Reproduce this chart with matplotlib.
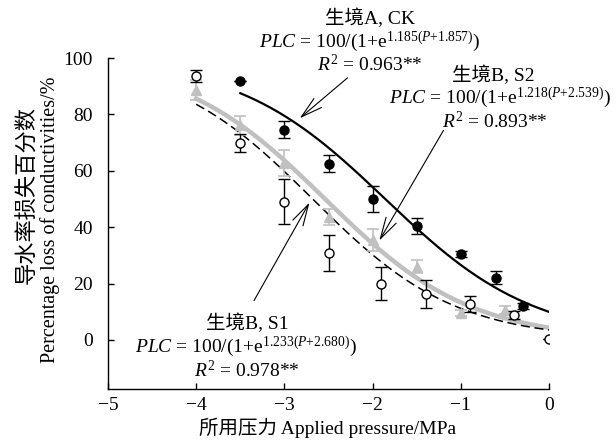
import numpy as np
import matplotlib
matplotlib.use("Agg")
import matplotlib.pyplot as plt

plt.rcParams['font.family'] = ['Liberation Serif', 'Noto Sans CJK SC']
plt.rcParams['mathtext.fontset'] = 'custom'
plt.rcParams['mathtext.rm'] = 'Liberation Serif'
plt.rcParams['mathtext.it'] = 'Liberation Serif:italic'
plt.rcParams['axes.unicode_minus'] = True

# 生境A, CK (filled circles)
ck_p = [-3.5, -3.0, -2.5, -2.0, -1.5, -1.0, -0.6, -0.3]
ck_plc = [91.8, 74.5, 62.5, 50.0, 40.4, 30.5, 22.0, 12.0]
ck_err = [0.0, 3.0, 3.0, 4.5, 2.7, 1.0, 2.3, 1.0]

# 生境B, S1 (open circles)
s1_p = [-4.0, -3.5, -3.0, -2.5, -1.9, -1.4, -0.9, -0.4, 0.0]
s1_plc = [93.6, 70.0, 49.0, 30.8, 20.0, 16.3, 12.8, 8.9, 0.3]
s1_err = [2.0, 3.2, 8.0, 6.4, 6.0, 5.0, 2.8, 1.5, 0.0]

# 生境B, S2 (grey triangles)
s2_p = [-4.0, -3.5, -3.0, -2.5, -2.0, -1.5, -1.0, -0.5]
s2_plc = [88.7, 76.2, 62.8, 43.6, 35.5, 25.9, 9.6, 10.6]
s2_err = [3.5, 3.4, 4.6, 2.8, 3.8, 2.3, 1.0, 1.5]

# fitted parameters PLC = 100/(1+exp(a(P+b))), curve start
ck_fit = (1.185, 1.857, -3.5)
s2_fit = (1.218, 2.539, -4.0)
s1_fit = (1.233, 2.680, -4.0)

grey = '#c0c0c0'

fig = plt.figure(figsize=(6.16, 4.47), dpi=100)
ax = fig.add_axes([108/616, 1-389/447, (549-108)/616, (389-58)/447])


def fit_curve(fit):
    a, b, start = fit
    p = np.linspace(start, 0, 200)
    return p, 100 / (1 + np.exp(a * (p + b)))


p, y = fit_curve(ck_fit)
ax.plot(p, y, color='black', lw=1.6, zorder=2)
p, y = fit_curve(s1_fit)
ax.plot(p, y, color='black', lw=1.1, ls=(0, (6, 3)), zorder=2)
p, y = fit_curve(s2_fit)
ax.plot(p, y, color=grey, lw=3.2, zorder=1)

ax.errorbar(s2_p, s2_plc, yerr=s2_err, fmt='^', color=grey, ms=6.5,
            ecolor=grey, elinewidth=1.2, capsize=4.5, capthick=1.2, zorder=3)
ax.errorbar(s1_p, s1_plc, yerr=s1_err, fmt='o', mfc='white', mec='black',
            mew=1.0, ms=6.5, ecolor='black', elinewidth=1.0, capsize=4.5,
            capthick=1.0, zorder=4)
ax.errorbar(ck_p, ck_plc, yerr=ck_err, fmt='o', color='black', ms=6.5,
            ecolor='black', elinewidth=1.0, capsize=4.5, capthick=1.0, zorder=5)

ax.set_xlim(-5, 0)
ax.set_ylim(-17.4, 100)
ax.set_xticks([-5, -4, -3, -2, -1, 0])
ax.set_yticks([0, 20, 40, 60, 80, 100])
ax.tick_params(direction='in', length=4, width=1, labelsize=14)
ax.tick_params(axis='y', pad=11)
ax.tick_params(axis='x', pad=6)
for s in ['top', 'right']:
    ax.spines[s].set_visible(False)
for s in ['left', 'bottom']:
    ax.spines[s].set_linewidth(1.0)

fs = 14


def block(xc, ytop, title, eq, r2):
    ax.text(xc[0], ytop, title, ha='center', va='center', fontsize=fs, clip_on=False)
    ax.text(xc[1], ytop - 8.2, eq, ha='center', va='center', fontsize=fs, clip_on=False)
    ax.text(xc[2], ytop - 16.4, r2, ha='center', va='center', fontsize=fs, clip_on=False)


block((-2.03, -2.03, -2.03), 114.0, '生境A, CK',
      r'$\mathit{PLC}$ = 100/(1+e$^{1.185(\mathit{P}{+}1.857)}$)',
      r'$\mathit{R}^2$ = 0.963**')
block((-0.63, -0.55, -0.61), 94.0, '生境B, S2',
      r'$\mathit{PLC}$ = 100/(1+e$^{1.218(\mathit{P}{+}2.539)}$)',
      r'$\mathit{R}^2$ = 0.893**')
block((-3.42, -3.44, -3.42), 5.7, '生境B, S1',
      r'$\mathit{PLC}$ = 100/(1+e$^{1.233(\mathit{P}{+}2.680)}$)',
      r'$\mathit{R}^2$ = 0.978**')

arrow = dict(arrowstyle='->,head_length=1.1,head_width=0.3', color='black',
             lw=0.8, mutation_scale=14)
ax.annotate('', xy=(-2.85, 78), xytext=(-2.26, 93.6), arrowprops=arrow)
ax.annotate('', xy=(-1.94, 34.4), xytext=(-1.18, 75.2), arrowprops=arrow)
ax.annotate('', xy=(-2.70, 49.6), xytext=(-3.36, 13.1), arrowprops=arrow)

fig.text(328/616, 1-428/447, '所用压力 Applied pressure/MPa', ha='center',
         va='center', fontsize=14)
fig.text(28/616, 1-195/447, '导水率损失百分数', rotation=90, ha='center',
         va='center', fontsize=16)
fig.text(50/616, 1-220/447, 'Percentage loss of conductivities/%', rotation=90,
         ha='center', va='center', fontsize=14.5)

fig.savefig('out.png', dpi=100)
